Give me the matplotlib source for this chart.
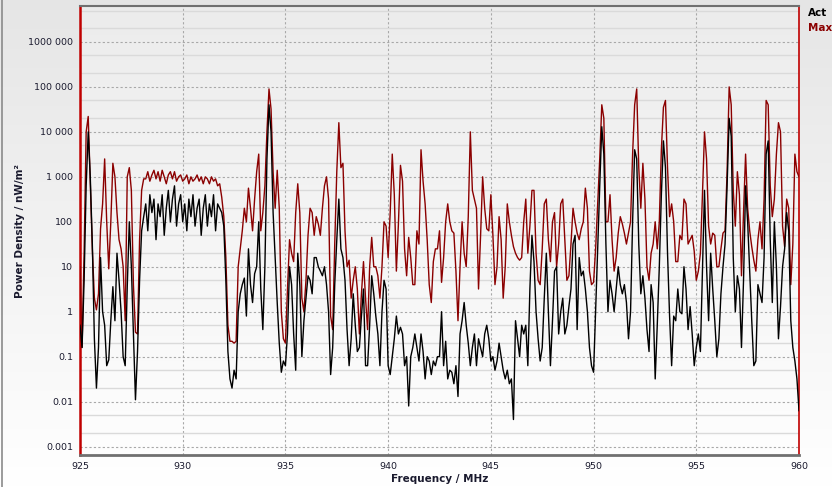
import numpy as np
import matplotlib.pyplot as plt
from matplotlib.ticker import FixedLocator, FixedFormatter, NullFormatter
from matplotlib.lines import Line2D

# spectrum, 0.1 MHz steps from 925 to 960 MHz, values in nW/m2
freq_start = 925.0
freq_stop = 960.0

max_values = [
    10, 0.16, 20, 10000, 22000, 800, 25, 2, 1.1, 2.5,
    70, 250, 2500, 100, 9, 100, 2000, 1000, 160, 40,
    25, 10, 0.63, 1000, 1600, 500, 4, 0.35, 0.32, 40,
    500, 900, 900, 1300, 800, 1100, 1400, 900, 1300, 800,
    1400, 1000, 700, 1100, 1300, 900, 1300, 800, 1000, 1100,
    800, 900, 1100, 700, 1000, 800, 900, 1100, 800, 1000,
    700, 1000, 900, 700, 1000, 800, 900, 630, 700, 350,
    130, 16, 0.5, 0.22, 0.22, 0.2, 0.22, 10, 25, 63,
    200, 100, 560, 200, 63, 320, 1300, 3200, 63, 160,
    630, 10000, 90000, 32000, 1300, 200, 1400, 200, 1, 0.25,
    0.2, 3.2, 40, 20, 13, 160, 700, 160, 2, 1,
    5, 50, 200, 160, 50, 130, 90, 50, 200, 630,
    1000, 320, 0.8, 0.4, 32, 1300, 16000, 1600, 2000, 63,
    10, 14, 2, 5, 10, 3.2, 0.32, 2.5, 13, 2,
    0.4, 10, 45, 10, 10, 6.3, 2, 10, 100, 80,
    16, 160, 3200, 400, 8, 90, 1800, 800, 25, 6.3,
    45, 16, 4, 4, 63, 32, 4000, 800, 250, 40,
    4, 1.6, 13, 25, 25, 63, 4.5, 16, 100, 250,
    100, 63, 56, 8, 0.63, 10, 100, 20, 10, 130,
    10000, 500, 320, 200, 3.2, 50, 1000, 200, 70, 63,
    400, 50, 4, 10, 130, 40, 2, 10, 250, 100,
    50, 28, 20, 16, 14, 16, 100, 320, 20, 80,
    500, 500, 20, 5, 4, 25, 250, 320, 40, 13,
    100, 160, 10, 32, 250, 320, 40, 5, 6.3, 32,
    200, 100, 56, 40, 70, 100, 560, 200, 8, 4,
    4.5, 25, 250, 2500, 40000, 20000, 100, 100, 400, 40,
    8, 16, 56, 130, 90, 56, 32, 56, 100, 3200,
    40000, 90000, 1600, 200, 2000, 320, 10, 5, 20, 32,
    100, 25, 100, 4000, 35000, 50000, 1600, 130, 250, 100,
    13, 13, 50, 40, 320, 250, 32, 40, 50, 22,
    5, 8, 20, 400, 10000, 2500, 80, 32, 56, 50,
    10, 10, 25, 56, 63, 1300, 100000, 40000, 500, 80,
    1300, 400, 6.3, 160, 3200, 200, 63, 28, 14, 8,
    40, 100, 25, 320, 50000, 40000, 630, 130, 320, 3200,
    16000, 10000, 80, 28, 320, 200, 4, 32, 3200, 1300,
    1000,
]

act_values = [
    0.5, 0.16, 5, 630, 10000, 1000, 32, 0.25, 0.02, 0.16,
    16, 1, 0.5, 0.063, 0.085, 0.63, 3.6, 0.63, 20, 5,
    1, 0.1, 0.063, 3.6, 100, 10, 0.32, 0.011, 0.13, 5,
    63, 130, 250, 63, 400, 160, 320, 40, 250, 130,
    400, 50, 200, 500, 100, 320, 630, 80, 250, 400,
    100, 250, 63, 320, 130, 400, 80, 200, 320, 50,
    200, 400, 80, 250, 130, 400, 63, 250, 200, 160,
    80, 5, 0.13, 0.032, 0.02, 0.05, 0.032, 1, 2.5, 4,
    5.6, 0.8, 25, 4, 1.6, 7, 10, 100, 3.2, 0.4,
    10, 2500, 40000, 10000, 160, 16, 1.6, 0.2, 0.045, 0.08,
    0.063, 0.32, 10, 4, 0.32, 0.05, 20, 4, 0.1, 0.63,
    2, 6.3, 5, 2.5, 16, 16, 10, 8, 6.3, 10,
    4, 1, 0.04, 0.16, 4, 40, 320, 25, 16, 5,
    0.4, 0.063, 0.25, 2.5, 0.5, 0.13, 0.16, 0.8, 3.2, 0.063,
    0.063, 0.5, 6.3, 2.5, 0.8, 0.32, 0.063, 1, 5, 3.2,
    0.063, 0.04, 0.1, 0.25, 0.8, 0.32, 0.45, 0.32, 0.063, 0.1,
    0.008, 0.1, 0.16, 0.32, 0.16, 0.08, 0.32, 0.13, 0.032, 0.1,
    0.08, 0.04, 0.08, 0.063, 0.1, 0.1, 1, 0.063, 0.22, 0.032,
    0.05, 0.045, 0.025, 0.063, 0.013, 0.32, 0.63, 1.6, 0.5, 0.2,
    0.063, 0.16, 0.32, 0.063, 0.25, 0.16, 0.1, 0.32, 0.5, 0.25,
    0.08, 0.1, 0.05, 0.08, 0.2, 0.1, 0.05, 0.032, 0.05, 0.025,
    0.032, 0.004, 0.63, 0.25, 0.1, 0.5, 0.32, 0.5, 0.063, 3.2,
    50, 13, 1, 0.25, 0.08, 0.16, 2, 20, 1, 0.063,
    0.63, 8, 10, 0.32, 1, 2, 0.32, 0.5, 1.3, 3.2,
    32, 50, 0.4, 16, 6.3, 8, 3.2, 1, 0.16, 0.063,
    0.045, 1, 25, 630, 13000, 3200, 32, 1, 5, 2.5,
    1, 3.2, 10, 4, 2.5, 4, 1.6, 0.25, 1, 100,
    4000, 2500, 32, 2.5, 6.3, 2, 0.4, 0.13, 4, 1.6,
    0.032, 0.5, 10, 400, 6300, 1600, 20, 0.8, 0.063, 0.8,
    0.63, 3.2, 1, 0.9, 10, 3.2, 0.4, 1.3, 0.32, 0.063,
    0.16, 0.32, 0.13, 8, 500, 10, 0.63, 20, 3.2, 0.63,
    0.1, 0.25, 2.5, 10, 32, 630, 20000, 8000, 16, 1,
    6.3, 3.2, 0.16, 5, 630, 100, 8, 0.63, 0.063, 0.08,
    4, 2.5, 1.6, 16, 3200, 6300, 40, 1.6, 100, 10,
    0.25, 1.3, 10, 25, 160, 63, 0.63, 0.16, 0.08, 0.032,
    0.0063,
]

x_ticks = [925, 930, 935, 940, 945, 950, 955, 960]
y_ticks = [0.001, 0.01, 0.1, 1, 10, 100, 1000, 10000, 100000, 1000000]
y_tick_labels = ['0.001', '0.01', '0.1', '1', '10', '100',
                 '1 000', '10 000', '100 000', '1000 000']

freq = np.linspace(freq_start, freq_stop, len(max_values))

max_color = '#8b0000'
act_color = '#000000'
text_color = '#1a1a2e'

fig = plt.figure(figsize=(8.32, 4.87), dpi=100)

# figure background gradient
bg = fig.add_axes([0, 0, 1, 1], zorder=-10)
bg.axis('off')
grad = np.linspace(0.90, 1.0, 256).reshape(-1, 1)
bg.imshow(np.dstack([grad, grad, grad]), aspect='auto', extent=[0, 1, 0, 1],
          origin='upper')
bg.set_xlim(0, 1)
bg.set_ylim(0, 1)
fig.add_artist(Line2D([0.002, 0.002], [0, 1], color='#8a8a8a', lw=1.2,
                      transform=fig.transFigure))

ax = fig.add_axes([80 / 832, 1 - 455 / 487, 719 / 832, 449 / 487])

# plot area gradient
pg = np.linspace(0.925, 0.995, 256).reshape(-1, 1)
ax.imshow(np.dstack([pg, pg, pg]), aspect='auto', extent=[0, 1, 0, 1],
          transform=ax.transAxes, origin='upper', zorder=0)

ax.plot(freq, max_values, color=max_color, lw=1.0, zorder=3)
ax.plot(freq, act_values, color=act_color, lw=1.0, zorder=4)

ax.set_yscale('log')
ax.set_xlim(freq_start, freq_stop)
ax.set_ylim(6.5e-4, 6.3e6)

ax.yaxis.set_major_locator(FixedLocator(y_ticks))
ax.yaxis.set_major_formatter(FixedFormatter(y_tick_labels))
minor = [m * t for t in [1e-4] + y_ticks for m in (2, 5)]
ax.yaxis.set_minor_locator(FixedLocator(minor))
ax.yaxis.set_minor_formatter(NullFormatter())
ax.set_xticks(x_ticks)
ax.set_xticklabels([str(t) for t in x_ticks])

ax.grid(which='major', axis='both', color='#a8a8a8', lw=0.8,
        linestyle=(0, (2, 2)), zorder=1)
ax.grid(which='minor', axis='y', color='#dadada', lw=1.0,
        linestyle='-', zorder=1)
ax.set_axisbelow(True)

ax.tick_params(axis='both', which='both', length=0, labelsize=6.8,
               labelcolor=text_color)
ax.tick_params(axis='y', pad=5)
ax.tick_params(axis='x', pad=5)

ax.spines['left'].set_color('#c00000')
ax.spines['left'].set_linewidth(1.8)
ax.spines['right'].set_color('#c00000')
ax.spines['right'].set_linewidth(1.2)
ax.spines['top'].set_color('#707070')
ax.spines['top'].set_linewidth(1.5)
ax.spines['bottom'].set_color('#707070')
ax.spines['bottom'].set_linewidth(2.0)

ax.set_ylabel('Power Density / nW/m²', fontsize=7.5, fontweight='bold',
              color=text_color, labelpad=2)
ax.set_xlabel('Frequency / MHz', fontsize=7.5, fontweight='bold',
              color=text_color, labelpad=2)

fig.text(808 / 832, 1 - 13 / 487, 'Act', color=act_color, fontsize=7.5,
         fontweight='bold', va='center', ha='left')
fig.text(808 / 832, 1 - 28 / 487, 'Max', color=max_color, fontsize=7.5,
         fontweight='bold', va='center', ha='left')

plt.savefig('out.png', dpi=100)
